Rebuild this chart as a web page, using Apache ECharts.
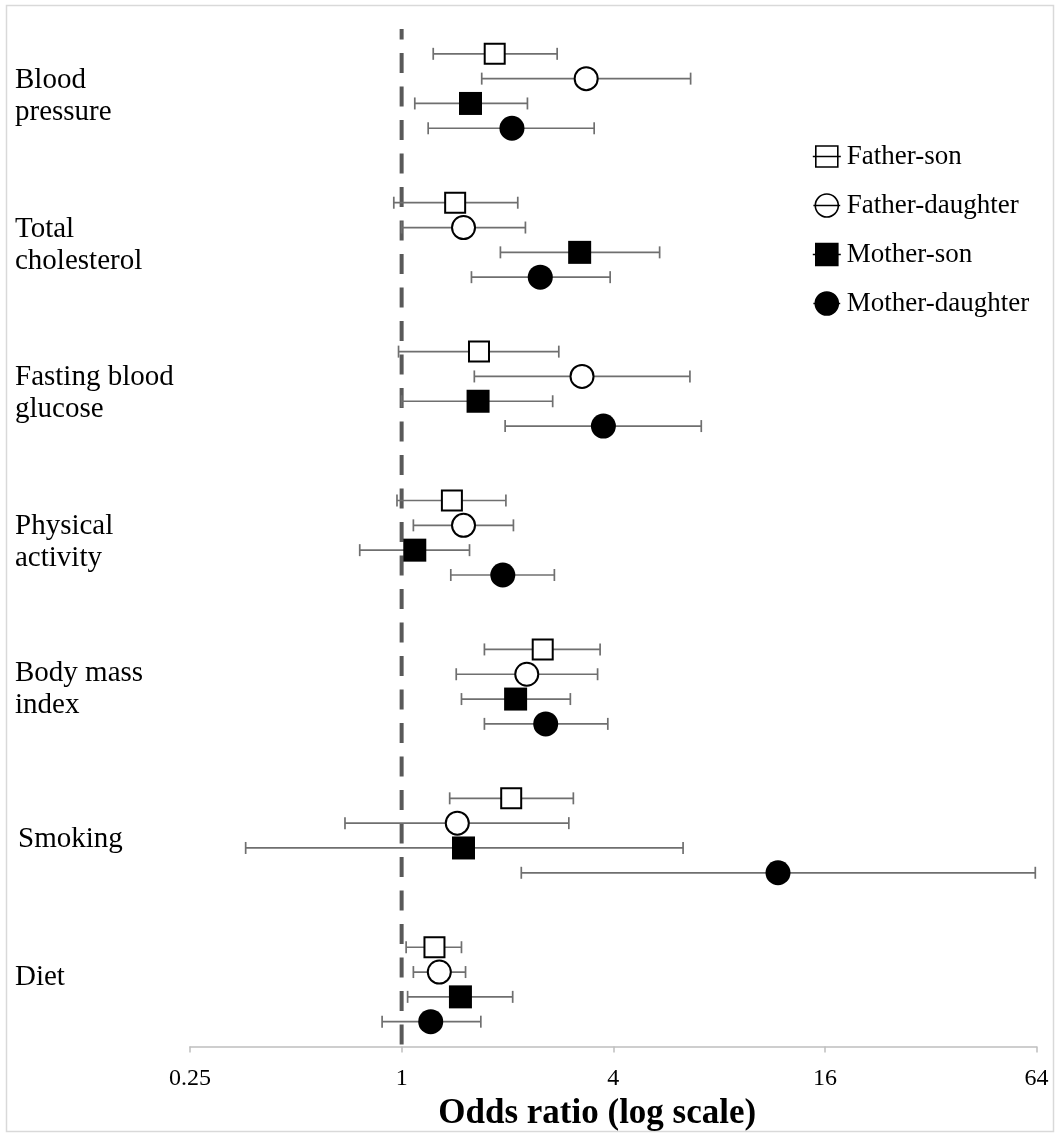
<!DOCTYPE html>
<html><head><meta charset="utf-8">
<script src="https://cdn.jsdelivr.net/npm/echarts@6/dist/echarts.min.js"></script>
<style>html,body{margin:0;padding:0;background:#fff}#c{width:1060px;height:1135px}</style>
</head><body><div id="c"></div>
<script>
const categories = ['Blood\npressure','Total\ncholesterol','Fasting blood\nglucose','Physical\nactivity','Body mass\nindex','Smoking','Diet'];
const seriesNames = ['Father-son','Father-daughter','Mother-son','Mother-daughter'];
const fatherSonOR = [1.84,1.42,1.66,1.39,2.52,2.05,1.24];
const fatherSonLo = [1.23,0.95,0.98,0.97,1.72,1.37,1.03];
const fatherSonHi = [2.77,2.14,2.80,1.98,3.67,3.08,1.48];
const fatherDaughterOR = [3.35,1.50,3.26,1.50,2.27,1.44,1.28];
const fatherDaughterLo = [1.69,1.00,1.61,1.08,1.43,0.69,1.08];
const fatherDaughterHi = [6.64,2.25,6.61,2.08,3.61,2.99,1.52];
const motherSonOR = [1.57,3.21,1.65,1.09,2.11,1.50,1.47];
const motherSonLo = [1.09,1.91,1.00,0.76,1.48,0.36,1.04];
const motherSonHi = [2.28,5.42,2.69,1.56,3.02,6.32,2.07];
const motherDaughterOR = [2.06,2.48,3.75,1.94,2.57,11.77,1.21];
const motherDaughterLo = [1.19,1.58,1.97,1.38,1.72,2.19,0.88];
const motherDaughterHi = [3.53,3.92,7.12,2.72,3.86,63.5,1.68];
const xTicks = [0.25, 1, 4, 16, 64];
const referenceOR = 1;

const groups = [
  {or: fatherSonOR, lo: fatherSonLo, hi: fatherSonHi},
  {or: fatherDaughterOR, lo: fatherDaughterLo, hi: fatherDaughterHi},
  {or: motherSonOR, lo: motherSonLo, hi: motherSonHi},
  {or: motherDaughterOR, lo: motherDaughterLo, hi: motherDaughterHi}
];
const SLOTS = 6, TOP = 40;
const rowY = (i, j) => TOP - SLOTS * i - j;
// label layout nudge (in row slots, positive = down) to mimic hand-placed text boxes
const labelNudge = [0.2, 0.2, 0.2, 0.2, 0.12, 0.15, -0.3];
const labelY = i => TOP - SLOTS * i - 1.5 - labelNudge[i];

const FONT = 'Liberation Serif';
const styles = [
  {symbol: 'rect', size: 20, item: {color: '#fff', borderColor: '#000', borderWidth: 2, opacity: 1}},
  {symbol: 'circle', size: 23, item: {color: '#fff', borderColor: '#000', borderWidth: 2, opacity: 1}},
  {symbol: 'rect', size: 23, item: {color: '#000', opacity: 1}},
  {symbol: 'circle', size: 25, item: {color: '#000', opacity: 1}}
];
const icons = [
  'path://M3,1 L25,1 L25,22 L3,22 Z M0,11.5 L28,11.5',
  'path://M26,12 A12,12 0 1 1 2,12 A12,12 0 1 1 26,12 Z M0,12 L28,12',
  'path://M3,1 L25,1 L25,23 L3,23 Z M0,12 L28,12',
  'path://M26,12 A12,12 0 1 1 2,12 A12,12 0 1 1 26,12 Z M0,12 L28,12'
];

function renderErr(params, api) {
  const y = api.value(2);
  const p1 = api.coord([api.value(0), y]);
  const p2 = api.coord([api.value(1), y]);
  const h = 6;
  const style = {stroke: '#6f6f6f', lineWidth: 1.7, fill: null};
  return {type: 'group', children: [
    {type: 'line', shape: {x1: p1[0], y1: p1[1], x2: p2[0], y2: p2[1]}, style: style},
    {type: 'line', shape: {x1: p1[0], y1: p1[1] - h, x2: p1[0], y2: p1[1] + h}, style: style},
    {type: 'line', shape: {x1: p2[0], y1: p2[1] - h, x2: p2[0], y2: p2[1] + h}, style: style}
  ]};
}

const series = [];
series.push({
  type: 'line', silent: true, symbol: 'none', z: 1,
  data: [[referenceOR, 41], [referenceOR, 0]],
  lineStyle: {color: '#595959', width: 4, type: [20, 13.5], dashOffset: 9.5}
});
groups.forEach((g, j) => {
  series.push({
    type: 'custom', silent: true, z: 2,
    renderItem: renderErr,
    encode: {x: [0, 1], y: 2},
    data: categories.map((c, i) => [g.lo[i], g.hi[i], rowY(i, j)])
  });
});
groups.forEach((g, j) => {
  series.push({
    type: 'scatter', name: seriesNames[j], z: 3,
    symbol: styles[j].symbol, symbolSize: styles[j].size,
    itemStyle: styles[j].item,
    data: categories.map((c, i) => [g.or[i], rowY(i, j)])
  });
});

const labelVals = categories.map((c, i) => labelY(i));
function labelFor(v) {
  let best = 0;
  labelVals.forEach((lv, i) => { if (Math.abs(lv - v) < Math.abs(labelVals[best] - v)) best = i; });
  const text = categories[best];
  return best === 5 ? '{s|' + text + '}' : text;
}

const chart = echarts.init(document.getElementById('c'));
chart.setOption({
  animation: false,
  backgroundColor: '#fff',
  grid: {left: 190, right: 23.5, top: 29, bottom: 88.5, containLabel: false, outerBoundsMode: 'none'},
  graphic: [{type: 'rect', shape: {x: 6.5, y: 5.5, width: 1047, height: 1126}, style: {fill: null, stroke: '#d9d9d9', lineWidth: 1.5}, silent: true}],
  legend: {
    orient: 'vertical', left: 807, top: 138, itemWidth: 28, itemHeight: 23, itemGap: 22,
    textStyle: {fontFamily: FONT, fontSize: 27, color: '#000', lineHeight: 27, padding: [0, 0, 0, 1]},
    data: seriesNames.map((n, j) => ({name: n, icon: icons[j], itemStyle: Object.assign({}, styles[j].item, {borderColor: '#000', borderWidth: 1.6})}))
  },
  xAxis: {
    type: 'log', logBase: 4, min: xTicks[0], max: xTicks[xTicks.length - 1],
    name: 'Odds ratio (log scale)', nameLocation: 'middle', nameGap: 50,
    nameTextStyle: {fontFamily: FONT, fontSize: 35, fontWeight: 'bold', color: '#000', padding: [0, 32, 0, 0]},
    axisLine: {lineStyle: {color: '#bfbfbf', width: 1.5}},
    axisTick: {show: true, length: 6, lineStyle: {color: '#bfbfbf', width: 1.5}},
    splitLine: {show: false},
    axisLabel: {fontFamily: FONT, fontSize: 24, color: '#000', margin: 20, formatter: v => String(+v.toPrecision(6))}
  },
  yAxis: {
    type: 'value', min: 0, max: 41,
    axisLine: {show: false}, axisTick: {show: false}, splitLine: {show: false},
    axisLabel: {
      customValues: labelVals,
      formatter: labelFor,
      align: 'left', margin: 175, fontFamily: FONT, fontSize: 29, lineHeight: 32, color: '#000',
      rich: {s: {fontFamily: FONT, fontSize: 29, color: '#000', padding: [0, 0, 0, 3]}}
    }
  },
  series: series
});
</script></body></html>
